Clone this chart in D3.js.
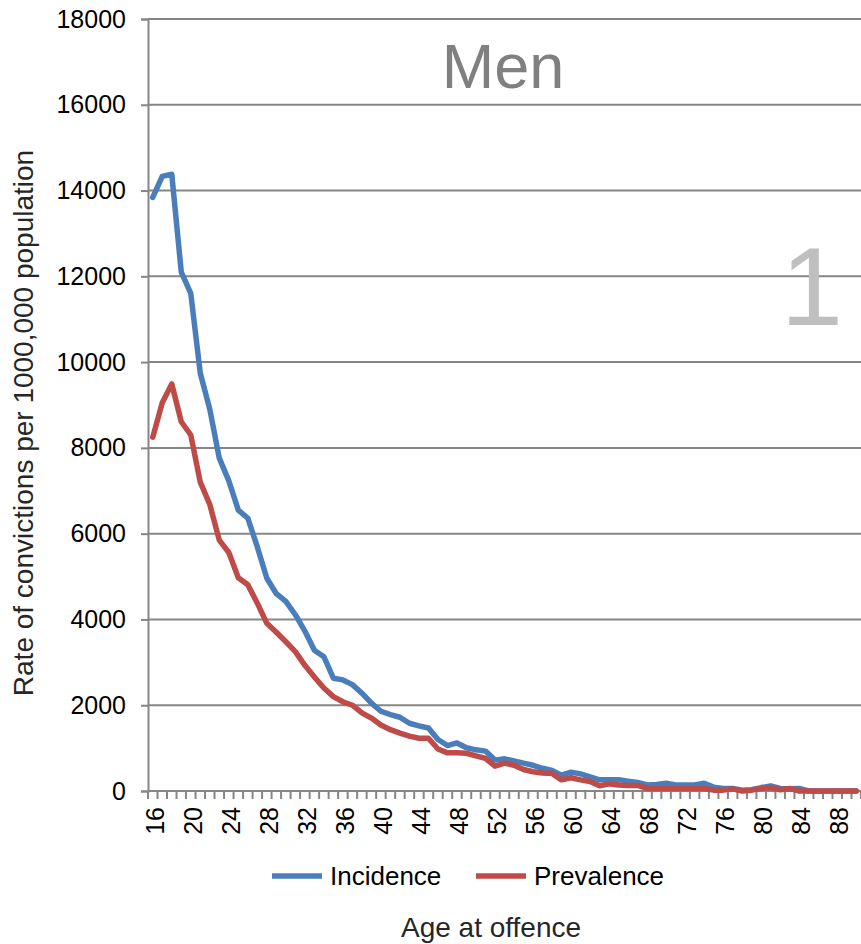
<!DOCTYPE html>
<html><head><meta charset="utf-8">
<script src="https://cdn.jsdelivr.net/npm/d3@7"></script>
<style>body{margin:0;background:#fff}svg{display:block}text{font-family:"Liberation Sans",Arial,sans-serif}</style>
</head><body><div id="chart"></div>
<script>
const ages = d3.range(16, 91);
const incidence = [13840,14330,14380,12100,11600,9740,8900,7760,7230,6550,6360,5690,4960,4600,4420,4110,3730,3280,3130,2630,2590,2480,2280,2050,1860,1780,1720,1580,1520,1470,1200,1060,1120,1010,960,930,720,750,700,650,600,530,480,370,440,400,330,260,260,260,230,200,140,150,180,140,140,140,180,90,60,60,20,30,80,120,60,50,60,0,0,0,0,0,0];
const prevalence = [8250,9050,9490,8610,8300,7200,6680,5850,5560,4970,4810,4380,3910,3700,3480,3250,2930,2660,2400,2200,2080,2000,1820,1700,1540,1430,1350,1280,1230,1230,980,890,890,880,820,760,580,650,600,500,450,420,410,260,310,260,220,120,170,140,130,130,60,60,60,60,60,60,60,20,20,50,0,20,60,80,30,60,0,0,0,0,0,0,0];
const yTicks = d3.range(0, 18001, 2000);
const xTickLabels = d3.range(16, 89, 4);
const seriesNames = ["Incidence", "Prevalence"];
const colors = ["#4a7ebb", "#be4b48"];

const W = 861, H = 944;
const svg = d3.select("#chart").append("svg").attr("width", W).attr("height", H);
const pLeft = 148, pRight = 861, pTop = 19, pBottom = 791;
const x = d3.scaleBand().domain(ages).range([pLeft, pRight]).padding(0);
const y = d3.scaleLinear().domain([0, 18000]).range([pBottom, pTop]);
const grid = "#868686";

// gridlines
svg.append("g").selectAll("line").data(yTicks.filter(d => d > 0)).join("line")
  .attr("x1", pLeft).attr("x2", pRight).attr("y1", d => y(d)).attr("y2", d => y(d))
  .attr("stroke", grid).attr("stroke-width", 2);

// y axis
const yAxis = svg.append("g").attr("transform", `translate(${pLeft},0)`)
  .call(d3.axisLeft(y).tickValues(yTicks).tickSize(7).tickPadding(15).tickFormat(d3.format("d")));
yAxis.select(".domain").attr("stroke", grid).attr("stroke-width", 2);
yAxis.selectAll(".tick line").attr("stroke", grid).attr("stroke-width", 2);
yAxis.selectAll(".tick text").attr("font-size", 25).attr("fill", "#000").attr("font-family", "Liberation Sans, Arial, sans-serif");

// x axis
svg.append("line").attr("x1", pLeft).attr("x2", pRight).attr("y1", pBottom).attr("y2", pBottom)
  .attr("stroke", grid).attr("stroke-width", 2);
svg.append("g").selectAll("line").data(ages.concat([91])).join("line")
  .attr("x1", d => d === 91 ? pRight : x(d)).attr("x2", d => d === 91 ? pRight : x(d))
  .attr("y1", pBottom).attr("y2", pBottom + 8).attr("stroke", grid).attr("stroke-width", 2);
svg.append("g").selectAll("text").data(xTickLabels).join("text")
  .attr("transform", d => `translate(${x(d) + x.bandwidth() / 2 + 2},807) rotate(-90)`)
  .attr("text-anchor", "end").attr("dy", "0.35em").attr("font-size", 25).attr("fill", "#000")
  .text(d => d);

// lines
const line = d3.line().x((d, i) => x(ages[i]) + x.bandwidth() / 2).y(d => y(d));
[incidence, prevalence].forEach((s, k) => {
  svg.append("path").datum(s).attr("d", line).attr("fill", "none")
    .attr("stroke", colors[k]).attr("stroke-width", 5.5).attr("stroke-linejoin", "round").attr("stroke-linecap", "round");
});

// annotations
svg.append("text").attr("x", 503).attr("y", 88).attr("text-anchor", "middle")
  .attr("font-size", 63).attr("fill", "#808080").text("Men");
svg.append("text").attr("x", 812).attr("y", 325).attr("text-anchor", "middle")
  .attr("font-size", 112).attr("fill", "#bfbfbf").text("1");

// legend
const legX = [272, 476];
seriesNames.forEach((n, k) => {
  svg.append("line").attr("x1", legX[k]).attr("x2", legX[k] + 50).attr("y1", 876).attr("y2", 876)
    .attr("stroke", colors[k]).attr("stroke-width", 5.5);
  svg.append("text").attr("x", legX[k] + 58).attr("y", 885).attr("font-size", 26).attr("fill", "#000").text(n);
});

// axis titles
svg.append("text").attr("x", 491).attr("y", 937).attr("text-anchor", "middle")
  .attr("font-size", 28).attr("fill", "#262626").text("Age at offence");
svg.append("text").attr("transform", "translate(33,423) rotate(-90)").attr("text-anchor", "middle")
  .attr("font-size", 28).attr("fill", "#262626").text("Rate of convictions per 1000,000 population");
</script></body></html>
